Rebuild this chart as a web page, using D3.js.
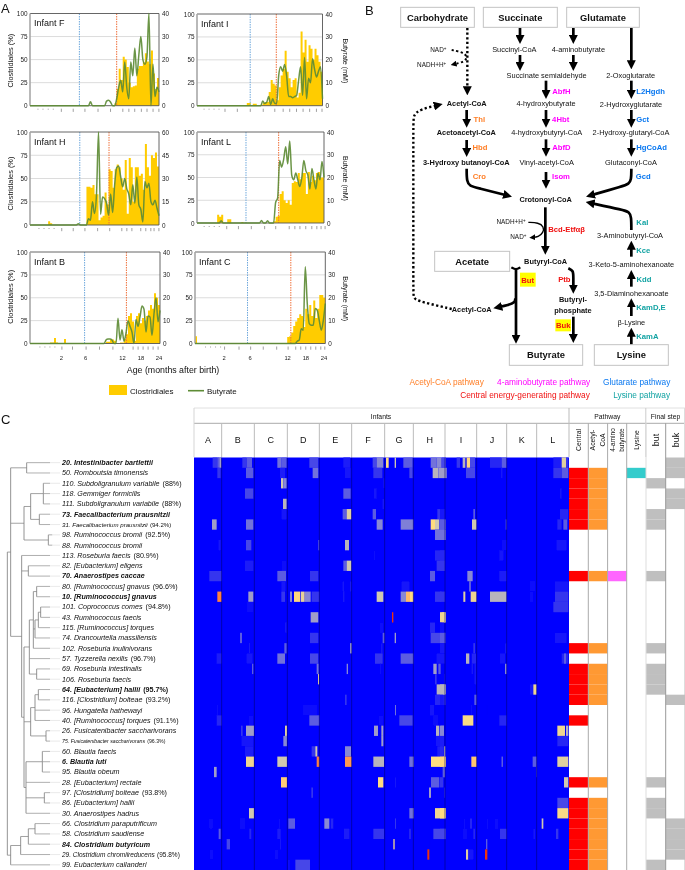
<!DOCTYPE html>
<html><head><meta charset="utf-8">
<script src="https://cdn.jsdelivr.net/npm/d3@7/dist/d3.min.js"></script>
<style>
html,body{margin:0;padding:0;background:#fff}
svg{display:block;font-family:"Liberation Sans",Arial,sans-serif;filter:blur(0.25px)}
</style></head><body><svg id="c" width="685" height="870"></svg>
<script>
// ---------- Panel A data (one value per sample) ----------
const clostF=[0,0,0,0,0,0,0,0,0,0,0,0,0,0,0,0,0,0,0,0,0,0,0,0,0,0,0,0,0,0,0,0,0,0,0,0,0,0,0,0,0,0,3,18,40,28,53,50,42,25,20,21,22,40,43,43,47,57,48,45,60,35,18,30,44];
const butF=[0,0,0,0,0,0,0,0,0,0,0,0,0,0,0,0,0,0,0,0,0,0,0,0,0,0,0,0,0,0,1.7,0,0,0,0,0,0,0,2,2.4,1.5,0,0,3,8,11,6,19,8,3,19,13,25,13,22,30,20,18,21,40,0,18,4,8,6];
const clostI=[0,0,0,0,0,0,0,0,0,0,0,0,0,0,0,0,0,0,0,0,0,0,0,0,0,3,3,0,2,2,0,0,1,3,4,4,15,28,24,22,6,20,33,40,60,37,30,20,28,30,9,14,81,58,72,48,66,62,50,62,55,48,37,36];
const butI=[0,0,0,0,0,0,0,0,0,0,0,0,0,0,0,0,0,0,0,0,0,0,0,0,0,0,0,0,0,0,0,0,0,2,1,1.5,4,.5,3,1,1,13,17,15,18,13,4,4,3.5,4,4.5,11,17,4.5,21,3,12,10,20.5,16,12.5,15,17,3];
const clostH=[0,0,0,0,0,0,0,0,0,4,2,0,0,0,0,0,0,0,0,0,0,0,0,0,0,0,0,0,41,41,40,43,33,33,5,8,10,35,22,60,58,40,60,65,62,50,38,70,12,72,62,25,62,62,53,55,38,87,62,53,75,72,78,63,56];
const butH=[0,0,0,0,0,0,0,0,0,0,0,0,0,0,0,0,0,0,0,0,0,0,0,0,.8,0,0,0,0,4,3,15,7.5,20,60,7,18,17,14,6.4,20,8,26,37,38,31,24.6,30,23.5,20,13,26,14,31,13,10,2,28,24,27,15,13,16,11,6];
const clostL=[0,0,0,0,0,0,0,0,0,0,9,7,9,0,0,4,4,0,0,0,0,0,1,0,0,0,0,0,0,0,0,0,0,0,0,0,0,0,2,7,8,32,35,25,22,25,20,44,46,45,55,48,55,55,32,56,45,52,47,55,56,50,50,58];
const butL=[0,0,0,0,0,0,0,0,0,0,0,0,1,0,0,0,0,0,0,0,0,0,0,0,0,0,0,0,0,0,0,0,1.1,0,0,1,0,0,0,9,11,27.5,24.6,28,33.5,26,36,21,19,22,19,16,20,27.5,23,21,15,24,19,15,22,19,27,20];
const clostB=[0,0,0,0,0,0,0,0,0,0,1,1,6,1,0,0,0,5,0,0,0,0,0,0,0,0,0,0,0,0,0,0,0,0,0,0,0,0,2,2,4.5,4.5,3,0,0,1,1,5,10,30,33,24,3,30,33,22,28,25,30,36,42,38,55,50,42,35];
const butB=[0,0,0,0,0,0,0,0,0,0,0,0,0,0,0,0,0,0,0,0,0,0,0,0,0,0,0,0,0,0,0,0,0,0,0,0,0,0,1.5,2,2,1.5,0,0,11,1.5,6,1,4.5,10,7.5,5,0,10.5,7.5,11.6,16.4,15,5,12,11.6,3.6,13,20,9.5,14.5];
const clostC=[8,0,0,0,0,0,0,0,0,0,0,0,0,0,0,0,0,0,0,0,0,0,0,0,0,0,0,0,0,0,0,0,0,0,0,0,0,0,0,0,0,.5,0,0,0,0,7,8,12,19,24,28,32,30,18,38,32,42,30,47,28,38,53,53,50,44];
const butC=[0,0,0,0,0,0,0,0,0,0,0,0,0,0,0,0,0,0,0,0,0,0,0,0,0,0,0,0,0,0,0,0,0,0,0,0,0,0,0,0,0,0,0,0,0,0,0,0,0,0,0,1,1.5,6.5,5.8,33.5,17.5,8.7,8,8,15.3,14.5,10,5.8,10,17.5];
// sample number of each age tick
const ticksF=[3.7,6.2,8.8,11.3,15.3,21.2,27,33.5,39.7,45.8,48.8,51.7,55,57.8,60.8,63.7];
const ticksI=[3.3,5.8,8.3,10.8,13.8,20,26.5,33,38.8,43,46.3,49.7,53,56.3,59.7,62.5];
const ticksH=[4.2,6.7,9.2,11.7,15.5,21.2,27,33.3,39.3,45.3,47.8,50.3,54.7,57.2,59.7,61.3,63.7];
const ticksL=[3.3,5.8,8.3,10.8,14.5,20.3,26.7,33.3,38.8,45.5,48.3,50.8,53.7,56.7,59.2,61.3,63.3];
const ticksB=[4.7,7.2,9.7,12.2,15.7,21,27.8,34.5,41.2,46.2,51.3,53.8,56.3,58.8,61.3,63.8];
const ticksC=[5,7.5,10,12.5,14.5,21.7,27.5,33.8,40.5,46.2,50,52.5,55,57.5,60,62.5,64.5];
const ageLabelsB=[[15.7,"2"],[27.8,"6"],[46.2,"12"],[55.5,"18"],[64.5,"24"]];
const ageLabelsC=[[14.5,"2"],[27.5,"6"],[46.2,"12"],[55.3,"18"],[64.3,"24"]];
const percentTicks=[0,25,50,75,100];
const butyrateTicks40=[0,10,20,30,40];
const butyrateTicks60=[0,15,30,45,60];

const panels=[
 {name:"Infant F",clost:clostF,but:butF,ticks:ticksF,blue:24.5,red:43,  butMax:40,bt:butyrateTicks40,box:[30,159,13.5,105.7],lab:1},
 {name:"Infant I",clost:clostI,but:butI,ticks:ticksI,blue:26.7,red:39.8,butMax:40,bt:butyrateTicks40,box:[197,322.5,14,105.7],right:true},
 {name:"Infant H",clost:clostH,but:butH,ticks:ticksH,blue:24.7,red:39.2,butMax:60,bt:butyrateTicks60,box:[30,159,132,225],lab:5},
 {name:"Infant L",clost:clostL,but:butL,ticks:ticksL,blue:24.3,red:40.5,butMax:40,bt:butyrateTicks40,box:[197,324,132,223],right:true},
 {name:"Infant B",clost:clostB,but:butB,ticks:ticksB,blue:27.3,red:48.2,butMax:40,bt:butyrateTicks40,box:[30,160,252,343.5],ages:ageLabelsB,lab:-1},
 {name:"Infant C",clost:clostC,but:butC,ticks:ticksC,blue:26.2,red:47.8,butMax:40,bt:butyrateTicks40,box:[195,325.3,252,343.5],right:true,ages:ageLabelsC}
];

// ---------- Panel C data ----------
const speciesLabels=[
["20. Intestinibacter bartlettii","",1],["50. Romboutsia timonensis",""],["110. Subdoligranulum variabile","(88%)"],["118. Gemmiger formicilis",""],["111. Subdoligranulum variabile","(88%)"],
["73. Faecalibacterium prausnitzii","",1],["31. Faecalibacterium prausnitzii","(94.2%)",0,6.1],["98. Ruminococcus bromii","(92.5%)"],["88. Ruminococcus bromii",""],["113. Roseburia faecis","(80.9%)"],
["82. [Eubacterium] eligens",""],["70. Anaerostipes caccae","",1],["80. [Ruminococcus] gnavus","(96.6%)"],["10. [Ruminococcus] gnavus","",1],["101. Coprococcus comes","(94.8%)"],
["43. Ruminococcus faecis",""],["115. [Ruminococcus] torques",""],["74. Drancourtella massiliensis",""],["102. Roseburia inulinivorans",""],["57. Tyzzerella nexilis","(96.7%)"],
["69. Roseburia intestinalis",""],["106. Roseburia faecis",""],["64. [Eubacterium] hallii","(95.7%)",1],["116. [Clostridium] bolteae","(93.2%)"],["96. Hungatella hathewayi",""],
["40. [Ruminococcus] torques","(91.1%)"],["26. Fusicatenibacter saccharivorans",""],["75. Fusicatenibacter saccharivorans","(96.3%)",0,5.2],["60. Blautia faecis",""],["6. Blautia luti","",1],
["95. Blautia obeum",""],["28. [Eubacterium] rectale",""],["97. [Clostridium] bolteae","(93.8%)"],["86. [Eubacterium] hallii",""],["30. Anaerostipes hadrus",""],
["66. Clostridium paraputrificum",""],["58. Clostridium saudiense",""],["84. Clostridium butyricum","",1],["29. Clostridium chromiireducens","(95.8%)",0,6.5],["99. Eubacterium callanderi",""]];
const dendrogram=[22,
 [32,[80,0,1],[72,[92,[130,2,3,4],[118,5,6]],[145,7,8]],
   [65,9,[85,10,11],[72,
     [88,[100,[110,12,13],[105,[115,[122,14,15],16],17],18],19,[110,20,21]],
     [92,[105,[115,22,23],24,25],[138,26,27]],
     [78,[127,28,29,30],31,[133,32,33],34]]]],
 [32,39,[62,38,[85,[105,35,36],37]]]];
const infantNames=["A","B","C","D","E","F","G","H","I","J","K","L"];
const infantBoundaries=[95,193,292,388,485,584,670,765,860,950,1040];
const infantCentres=[54,143,242,340,436,534,627,719,813,906,995,1088];
// [row, from sample, to sample, abundance level]
const heatWest=[
[0,68,82,.2],[0,82,88,.3],[0,88,94,.45],[0,157,170,.2],[0,170,186,.3],[0,262,275,.35],[0,275,290,.3],[0,358,385,.25],[0,460,480,.12],[0,548,560,.25],[0,560,580,.4],[0,588,596,.7],[0,614,618,.55],[0,640,668,.3],[0,722,740,.35],[0,740,755,.4],[0,755,768,.25],
[1,82,92,.2],[1,168,190,.3],[1,270,285,.12],[1,368,385,.35],[1,465,482,.1],[1,550,577,.2],[1,658,668,.25],[1,728,745,.5],[1,745,770,.45],
[2,273,280,.55],[2,280,290,.4],[2,580,584,.1],
[3,165,190,.25],[3,460,482,.3],[3,552,560,.1],
[4,279,290,.5],[4,578,582,.1],
[5,275,290,.1],[5,458,470,.3],[5,470,484,.6],[5,548,558,.3],[5,742,760,.2],
[6,66,80,.45],[6,168,190,.35],[6,560,578,.4],[6,632,670,.38],[6,722,735,.7],[6,735,748,.55],[6,748,768,.3],
[7,735,768,.35],
[8,86,92,.1],[8,168,184,.25],[8,384,388,.25],[8,465,477,.5],
[9,735,765,.15],[9,552,556,.05],
[10,165,190,.12],[10,275,288,.08],[10,460,470,.3],[10,470,484,.55],[10,740,765,.2],
[11,58,95,.2],[11,262,288,.3],[11,360,385,.2],[11,720,735,.3],
[12,274,286,.1],[12,458,462,.1],[12,480,484,.1],[12,635,658,.1],
[13,82,95,.95],[13,175,190,.45],[13,274,285,.2],[13,300,306,.4],[13,312,330,.72],[13,332,344,.62],[13,345,362,.4],[13,365,388,.2],[13,460,463,.15],[13,560,580,.55],[13,632,648,.4],[13,648,660,.82],[13,660,670,.7],[13,735,755,.2],
[14,172,190,.08],
[15,362,385,.45],[15,606,610,1],[15,755,768,.6],
[16,285,290,.1],[16,720,735,.15],[16,570,580,.05],
[17,150,156,.3],[17,360,385,.2],[17,578,584,.3],[17,614,618,.45],[17,722,767,.25],
[18,178,180,.15],[18,283,290,.3],[18,480,486,.4],[18,573,578,.1],
[19,80,95,.12],[19,170,188,.1],[19,262,285,.35],[19,360,385,.25],[19,555,578,.2],[19,632,670,.3],[19,740,765,.1],
[20,186,190,.3],[20,380,386,.35],[20,470,474,.4],[20,730,740,.45],[20,745,752,.3],[20,570,573,.05],
[21,384,387,.65],[21,735,740,.2],[21,762,765,.1],
[22,740,768,.5],
[23,465,470,.2],[23,735,768,.15],
[24,80,86,.05],[24,340,380,.06],[24,615,618,.35],[24,720,732,.1],
[25,80,96,.15],[25,175,190,.05],[25,358,388,.3],[25,565,580,.05],[25,628,668,.25],[25,730,745,.08],
[26,153,158,.2],[26,168,192,.45],[26,285,291,.6],[26,552,564,.45],[26,574,580,.45],[26,738,748,.5],[26,752,762,.3],
[27,155,190,.1],[27,280,291,.4],[27,574,580,.45],[27,738,762,.1],
[28,165,190,.12],[28,365,376,.2],[28,376,382,.55],[28,465,483,.4],[28,742,762,.12],[28,762,766,.5],
[29,168,192,.65],[29,262,291,.55],[29,380,388,.95],[29,465,485,.9],[29,550,582,.5],[29,658,672,.35],[29,723,768,.7],
[30,72,80,.45],[30,760,765,.45],
[31,273,291,.75],[31,564,580,.7],[31,615,618,.1],[31,723,748,.3],
[32,364,369,.2],[32,717,723,.45],[32,762,765,.15],
[34,177,192,.55],[34,658,672,.35],[34,735,768,.65],
[35,58,68,.06],[35,150,165,.08],[35,267,270,.05],[35,295,315,.3],[35,403,418,.4],[35,422,430,.15],[35,615,618,.2],
[36,86,92,.3],[36,178,184,.15],[36,262,272,.12],[36,462,478,.12],[36,550,582,.2],[36,658,662,.2],[36,730,768,.25],
[37,110,120,.25],[37,270,273,.1],[37,610,614,.65],[37,718,721,.05],
[38,58,70,.05],[38,255,265,.04],[38,712,718,1],
[39,295,298,.1],[39,316,360,.25]];
// same form, counted from the start of the eastern block of infants
const eastStart=750;
const heatEast=[
[0,50,60,.2],[0,68,76,.5],[0,80,90,.72],[0,90,105,.25],[0,150,185,.15],[0,185,200,.3],[0,340,365,.12],[0,365,378,.6],[0,378,385,.2],
[1,78,105,.25],[1,183,187,.1],[1,340,365,.2],[1,365,385,.3],
[3,360,365,.1],
[5,0,15,.1],[5,100,105,.3],[5,360,385,.15],
[6,0,15,.3],[6,96,110,.55],[6,197,200,.3],[6,352,365,.15],[6,370,382,.3],
[7,0,15,.35],
[8,185,200,.08],[8,350,380,.1],
[9,0,15,.15],[9,178,190,.1],
[10,0,15,.2],
[11,82,98,.4],[11,178,200,.12],
[12,88,92,.4],[12,270,285,.05],[12,345,385,.1],
[13,0,15,.2],[13,70,76,.6],[13,92,110,.65],[13,150,200,.5],[13,270,280,.05],[13,345,385,.2],
[14,340,385,.2],
[15,0,15,.65],
[16,0,12,.05],
[17,0,15,.3],[17,345,380,.1],
[18,0,15,.1],[18,100,105,.2],[18,195,200,.1],
[19,78,88,.5],[19,95,108,.15],[19,180,195,.1],[19,365,385,.15],[19,372,378,.3],
[20,95,98,.15],[20,103,108,.1],[20,195,200,.4],
[21,103,108,.1],
[22,0,15,.5],[22,270,280,.1],[22,280,290,.65],
[23,0,10,.1],[23,103,110,.3],
[24,92,97,.05],[24,140,143,.05],
[25,68,100,.68],[25,178,200,.15],
[26,0,12,.4],[26,352,375,.65],[26,378,385,.5],
[27,0,12,.12],[27,352,385,.15],
[28,0,10,.15],
[29,0,15,.72],[29,94,110,.78],[29,185,188,.4],[29,278,290,.3],[29,352,385,.6],
[30,8,14,.3],[30,288,291,.2],
[31,0,10,.2],[31,372,385,.55],
[33,352,385,.25],
[34,0,15,.7],[34,352,385,.68],
[35,70,75,.05],[35,90,96,.15],[35,140,145,.05],[35,165,175,.05],[35,305,310,.55],
[36,0,16,.25],[36,70,80,.08],[36,100,105,.15],[36,180,200,.2],[36,280,285,.1],[36,348,355,.2],
[37,138,142,.3],[37,95,98,.05],
[38,78,85,.6],[38,85,100,.1],[38,135,142,1]];
// pathway membership (rows coloured in each column)
const rowsCentral=[1,2,3,4,5,6,11,18,20,21,22,23,25,31,33,34,35,36,37,38,39];
const rowsAcetyl=[1,2,3,4,5,6,11,18,20,21,22,23,31,33,34,35,36,37,38,39];
const rowsAmino=[11];
const rowsLysine=[1];
const rowsBut=[2,5,6,11,18,20,21,22,31,33,34,39];
const rowsBuk=[0,1,3,4,23,35,36,37,38];

// ---------- Panel B content (diagram units) ----------
const ORANGE="#FF7F27",MAGENTA="#FF00FF",BLUE="#0A78F0",RED="#F01010",TEAL="#12A3A3";
const boxes=[["Carbohydrate",122,22,343,82],["Succinate",370,22,592,82],["Glutamate",620,22,838,82],["Acetate",224,754,449,814],["Butyrate",448,1034,668,1096],["Lysine",703,1034,925,1096]];
const metabolites=[["Succinyl-CoA",463,148],["4-aminobutyrate",655,148],["Succinate semialdehyde",560,225],["2-Oxoglutarate",812,226],["4-hydroxybutyrate",558,310],["2-Hydroxyglutarate",813,313],["4-hydroxybutyryl-CoA",560,398],["2-Hydroxy-glutaryl-CoA",813,398],["Vinyl-acetyl-CoA",560,487],["Glutaconyl-CoA",813,487],["3-Aminobutyryl-CoA",810,706],["3-Keto-5-aminohexanoate",814,794],["3,5-Diaminohexanoate",814,879],["β-Lysine",814,967]];
const boldMetabolites=[["Acetyl-CoA",320,309],["Acetoacetyl-CoA",319,398],["3-Hydroxy butanoyl-CoA",319,487],["Crotonoyl-CoA",557,597],["Butyryl-CoA",557,784],["Butyryl-",639,897],["phosphate",639,931],["Acetyl-CoA",335,927]];
const enzymes=[["Thl",358,358,ORANGE],["Hbd",360,443,ORANGE],["Cro",358,528,ORANGE],["AbfH",604,273,MAGENTA],["4Hbt",602,358,MAGENTA],["AbfD",604,443,MAGENTA],["Isom",603,528,MAGENTA],["L2Hgdh",872,273,BLUE],["Gct",848,358,BLUE],["HgCoAd",875,443,BLUE],["Gcd",850,528,BLUE],["Bcd-Etfαβ",620,689,RED],["But",503,842,RED],["Ptb",613,837,RED],["Buk",610,975,RED],["Kal",847,666,TEAL],["Kce",850,752,TEAL],["Kdd",852,837,TEAL],["KamD,E",873,923,TEAL],["KamA",862,1008,TEAL]];
const highlights=[[480,818,527,860],[586,958,633,994]];
const cofactors=[["NAD","+",235,150],["NADH+H","+",215,195],["NADH+H","+",453,666],["NAD","+",475,711]];
const pathwayLegend=[["Acetyl-CoA pathway",260,1145,ORANGE],["4-aminobutyrate pathway",551,1145,MAGENTA],["Glutarate pathway",830,1145,BLUE],["Central energy-generating pathway",495,1185,RED],["Lysine pathway",845,1185,TEAL]];
const solidArrows=[
[[480,84],[480,132]],[[480,165],[480,213]],[[640,84],[640,132]],[[640,165],[640,213]],[[814,84],[814,208]],
[[558,242],[558,297]],[[558,330],[558,383]],[[558,418],[558,470]],[[558,516],[558,566]],
[[814,242],[814,297]],[[814,330],[814,383]],[[814,418],[814,470]],
[[320,330],[320,383]],[[320,420],[320,471]],
[[320,506],[320,545],[330,558],[350,563],[456,590]],
[[814,506],[814,540],[806,552],[790,558],[678,590]],
[[556,622],[556,764]],
[[814,690],[814,650],[808,636],[790,630],[677,606]],
[[814,770],[814,722]],[[814,860],[814,810]],[[814,948],[814,895]],[[814,1035],[814,983]],
[[468,810],[468,1031]],
[[466,895],[465,908],[445,915],[400,925]],
[[625,805],[640,812],[640,830],[640,881]],
[[640,950],[640,1029]]];
const thinArrows=[[[505,667],[535,668],[552,680],[550,698],[535,711],[508,713]]];
const dottedArrows=[
[[322,84],[322,286]],
[[275,150],[310,157],[322,170],[315,185],[272,195]],
[[275,927],[180,905],[160,895],[160,880],[160,370],[160,345],[180,328],[248,312]]];
const forkLines=[[[454,802],[468,810],[481,802]]];

// ---------- Drawing ----------
const svg=d3.select("#c");
const txt=(g,s,x,y,o={})=>g.append("text").attr("x",x).attr("y",y).text(s)
  .attr("font-size",o.size||7).attr("font-weight",o.bold?"bold":null)
  .attr("text-anchor",o.anchor||"middle").attr("fill",o.fill||"#111").attr("font-style",o.italic?"italic":null);
[["A",1,12.5],["B",365,14.5],["C",1,424]].forEach(d=>txt(svg,d[0],d[1],d[2],{size:13,anchor:"start"}));

// Panel A
const A=svg.append("g");
panels.forEach(p=>{
  const [l,r,t,b]=p.box, n=p.clost.length, g=A.append("g");
  const x=d3.scaleLinear().domain([0,n-1]).range([l,r]);
  const y=d3.scaleLinear().domain([0,100]).range([b,t]);
  const y2=d3.scaleLinear().domain([0,p.butMax]).range([b,t]);
  g.selectAll("line.grid").data([25,50,75]).join("line").attr("x1",l).attr("x2",r).attr("y1",y).attr("y2",y).attr("stroke","#dcdcdc");
  g.append("path").datum(p.clost).attr("fill","#FFCC00").attr("d",d3.area().x((d,i)=>x(i)).y0(b).y1(d=>y(d)).curve(d3.curveStepAfter));
  [[p.blue,"#6FA8DC"],[p.red,"#F0703A"]].forEach(v=>g.append("line").attr("x1",x(v[0])).attr("x2",x(v[0])).attr("y1",t).attr("y2",b).attr("stroke",v[1]).attr("stroke-width",1).attr("stroke-dasharray","1.5 1"));
  g.append("path").attr("d",`M${l},${b}H${r}V${t}H${l}`).attr("fill","none").attr("stroke","#555").attr("stroke-width",.9);
  g.append("line").attr("x1",l).attr("x2",l).attr("y1",t).attr("y2",b).attr("stroke","#a8a8a8").attr("stroke-width",1.6);
  g.append("path").datum(p.but).attr("fill","none").attr("stroke","#5E8C36").attr("stroke-opacity",.92).attr("stroke-width",1.5)
    .attr("d",d3.line().x((d,i)=>x(i)).y(d=>y2(d)).curve(d3.curveMonotoneX));
  const axL=g.append("g").attr("transform",`translate(${l},0)`).call(d3.axisLeft(y).tickValues(percentTicks).tickSize(0).tickPadding(2.5));
  const axR=g.append("g").attr("transform",`translate(${r},0)`).call(d3.axisRight(y2).tickValues(p.bt).tickSize(0).tickPadding(3));
  [axL,axR].forEach(a=>{a.select(".domain").remove();a.selectAll("text").attr("font-size",6.4).attr("font-family","inherit").attr("fill","#222");});
  const axB=g.append("g").attr("transform",`translate(0,${b+3})`).call(d3.axisBottom(x).tickValues(p.ticks).tickSize(3.2).tickFormat(""));
  axB.select(".domain").remove();
  axB.selectAll("line").attr("stroke","#888").attr("stroke-width",.8).attr("y2",(d,i)=>i<4?1:3.2);
  if(p.ages) p.ages.forEach(a=>txt(g,a[1],x(a[0]),b+16.8,{size:5.8,fill:"#222"}));
  txt(g,p.name,l+4,t+12.5,{size:9,anchor:"start"});
  const mid=(t+b)/2;
  if(p.lab!==undefined) g.append("text").attr("transform",`translate(12.5,${mid+p.lab}) rotate(-90)`).attr("text-anchor","middle").attr("font-size",7.4).attr("fill","#111").text("Clostridiales (%)");
  if(p.right) g.append("text").attr("transform",`translate(342.5,${mid+1}) rotate(90)`).attr("text-anchor","middle").attr("font-size",7.1).attr("fill","#111").text("Butyrate (mM)");
});
txt(A,"Age (months after birth)",173,373,{size:8.8});
A.append("rect").attr("x",109).attr("y",385).attr("width",18).attr("height",10).attr("fill","#FFCC00");
txt(A,"Clostridiales",130,394,{size:8,anchor:"start"});
A.append("line").attr("x1",188).attr("x2",204).attr("y1",390.7).attr("y2",390.7).attr("stroke","#5E8C36").attr("stroke-width",1.6);
txt(A,"Butyrate",207,394,{size:8,anchor:"start"});

// Panel B
const B=svg.append("g");
const bx=d3.scaleLinear().domain([0,975]).range([360,685]);
const by=d3.scaleLinear().domain([0,1200]).range([0,400]);
const defs=svg.append("defs");
[["arrow",9],["arrowS",6]].forEach(m=>defs.append("marker").attr("id",m[0]).attr("viewBox","0 0 10 10").attr("refX",5).attr("refY",5)
  .attr("markerUnits","userSpaceOnUse").attr("markerWidth",m[1]).attr("markerHeight",m[1]).attr("orient","auto")
  .append("path").attr("d","M0,0L10,5L0,10z").attr("fill","#000"));
defs.append("filter").attr("id","stripeSoft").attr("x","-2%").attr("y","0%").attr("width","104%").attr("height","100%")
  .append("feGaussianBlur").attr("stdDeviation","0.55 0");
const curve=d3.line().x(d=>d[0]).y(d=>d[1]).curve(d3.curveBasis);
function arrow(pts,w,head,dash){
  const px=pts.map(p=>[bx(p[0]),by(p[1])]);
  const a=px[px.length-2],z=px[px.length-1],len=Math.hypot(z[0]-a[0],z[1]-a[1]),cut=head==="arrow"?4.5:3;
  px[px.length-1]=[z[0]-(z[0]-a[0])/len*cut,z[1]-(z[1]-a[1])/len*cut];
  const path=B.append("path").attr("d",curve(px)).attr("fill","none").attr("stroke","#000").attr("stroke-width",w).attr("marker-end",`url(#${head})`);
  if(dash) path.attr("stroke-dasharray",dash);
}
highlights.forEach(h=>B.append("rect").attr("x",bx(h[0])).attr("y",by(h[1])).attr("width",bx(h[2])-bx(h[0])).attr("height",by(h[3])-by(h[1])).attr("fill","#FFFF00"));
solidArrows.forEach(p=>arrow(p,2.7,"arrow"));
thinArrows.forEach(p=>arrow(p,1.4,"arrowS"));
dottedArrows.forEach((p,i)=>arrow(p,i===1?2:2.4,i===1?"arrowS":"arrow","2.2 2.4"));
forkLines.forEach(p=>B.append("path").attr("d",curve(p.map(q=>[bx(q[0]),by(q[1])]))).attr("fill","none").attr("stroke","#000").attr("stroke-width",2.2));
boxes.forEach(d=>{
  B.append("rect").attr("x",bx(d[1])).attr("y",by(d[2])).attr("width",bx(d[3])-bx(d[1])).attr("height",by(d[4])-by(d[2])).attr("fill","#fff").attr("stroke","#c4c4c4").attr("stroke-width",1);
  txt(B,d[0],bx((d[1]+d[3])/2),by((d[2]+d[4])/2)+3.3,{size:9.4,bold:true});
});
metabolites.forEach(d=>txt(B,d[0],bx(d[1]),by(d[2])+2.6,{size:7.4}));
boldMetabolites.forEach(d=>txt(B,d[0],bx(d[1]),by(d[2])+2.6,{size:7.4,bold:true}));
enzymes.forEach(d=>txt(B,d[0],bx(d[1]),by(d[2])+2.7,{size:7.7,bold:true,fill:d[3]}));
cofactors.forEach(d=>{
  const t=txt(B,d[0],bx(d[2]),by(d[3])+2.3,{size:6.4});
  t.append("tspan").attr("dy",-2).attr("font-size",4.5).text(d[1]);
});
pathwayLegend.forEach(d=>txt(B,d[0],bx(d[1]),by(d[2])+3,{size:8.3,fill:d[3]}));

// Panel C
const C=svg.append("g");
const heatTop=457.5, heatBottom=870;
const row=d3.scaleBand().domain(d3.range(40)).range([heatTop,heatBottom]);
const hx=d3.scaleLinear().domain([12,1137]).range([194,569]);
const heatColor=d3.scaleLinear().domain([0,.1,.25,.4,.55,.7,.85,.95,1])
  .range(["#0000ff","#1414fa","#4646e8","#8888d4","#d0c8b0","#ffdc80","#ffb060","#ff8040","#ee3010"]);
C.append("rect").attr("x",194).attr("y",heatTop).attr("width",375).attr("height",heatBottom-heatTop).attr("fill",heatColor(0));
const spans=heatWest.concat(heatEast.map(s=>[s[0],s[1]+eastStart,s[2]+eastStart,s[3]]));
C.append("g").attr("filter","url(#stripeSoft)").selectAll("rect").data(spans).join("rect").attr("x",d=>hx(d[1])).attr("width",d=>hx(d[2])-hx(d[1])).attr("y",d=>row(d[0])).attr("height",row.bandwidth()).attr("fill",d=>heatColor(d[3]));
C.selectAll("line.b").data(infantBoundaries).join("line").attr("x1",hx).attr("x2",hx).attr("y1",heatTop).attr("y2",heatBottom).attr("stroke","#00006e").attr("stroke-width",.8).attr("stroke-opacity",.7);
// header
const header=C.append("g");
const hl=(a,b,c,d,col)=>header.append("line").attr("x1",a).attr("y1",b).attr("x2",c).attr("y2",d).attr("stroke",col||"#bbb");
hl(194,408,685,408,"#e0e0e0"); hl(194,423.3,685,423.3,"#aaa"); hl(194,408,194,457,"#d5d5d5");
hl(569,408,569,457,"#bbb"); hl(645.8,408,645.8,457,"#ccc"); hl(684.5,408,684.5,870,"#ddd");
infantBoundaries.forEach(v=>hl(hx(v),423.3,hx(v),457,"#bbb"));
infantNames.forEach((n,i)=>txt(header,n,hx(infantCentres[i]),443.3,{size:9}));
txt(header,"Infants",381,418.5,{size:6.8});
txt(header,"Pathway",607.3,418.5,{size:6.8});
txt(header,"Final step",665.5,418.5,{size:6.8});
const rot=(s,x,size,yy)=>header.append("text").attr("transform",`translate(${x},${yy||440}) rotate(-90)`).attr("text-anchor","middle").attr("font-size",size).attr("fill","#111").text(s);
rot("Central",580.8,6.8);rot("Acetyl-",595.3,6.8);rot("CoA",605,6.8);rot("4-amino",614.5,6.5);rot("butyrate",624,6.5);rot("Lysine",639,6.8);rot("but",659,9);rot("buk",678.5,9);
// pathway table
const tableCols=[[569,588.3,rowsCentral,"#FF0000"],[588.3,607.6,rowsAcetyl,"#FF9933"],[607.6,626.7,rowsAmino,"#FF66FF"],[626.7,646,rowsLysine,"#33CCCC"],[646,665.7,rowsBut,"#BFBFBF"],[665.7,685,rowsBuk,"#BFBFBF"]];
tableCols.forEach(c=>C.append("g").selectAll("rect").data(c[2]).join("rect").attr("x",c[0]).attr("width",c[1]-c[0]).attr("y",d=>row(d)).attr("height",row.bandwidth()).attr("fill",c[3]));
[[588.3,"#aaa"],[607.6,"#aaa"],[626.7,"#aaa"],[646,"#ddd"],[665.7,"#999"]].forEach(v=>C.append("line").attr("x1",v[0]).attr("x2",v[0]).attr("y1",423.3).attr("y2",870).attr("stroke",v[1]).attr("stroke-width",1));
// labels
speciesLabels.forEach((s,i)=>{
  const t=C.append("text").attr("x",62).attr("y",row(i)+row.bandwidth()/2+2.4).attr("font-size",s[3]||7.15).attr("font-style","italic").attr("font-weight",s[2]?"bold":null).attr("fill","#111").text(s[0]);
  if(s[1]) t.append("tspan").attr("font-style","normal").attr("dx",s[3]?2.2:3).text(s[1]);
});
// dendrogram
const dx=d3.scaleLinear().domain([0,180]).range([0,60]);
const root=d3.hierarchy(dendrogram,d=>Array.isArray(d)?d.slice(1):null);
const rowY=i=>row(i)+row.bandwidth()/2;
root.eachAfter(n=>{
  if(n.children){n.hh=n.data[0];const e=d3.extent(n.children,c=>c.yy);n.yy=(e[0]+e[1])/2;n.y0=e[0];n.y1=e[1];}
  else{n.yy=rowY(n.data);}
});
const tree=C.append("g").attr("fill","none");
root.descendants().forEach(n=>{
  if(!n.children) return;
  tree.append("line").attr("x1",dx(n.hh)).attr("x2",dx(n.hh)).attr("y1",n.y0).attr("y2",n.y1).attr("stroke","#777").attr("stroke-width",.8);
  n.children.forEach(c=>{
    if(c.children){
      tree.append("line").attr("x1",dx(n.hh)).attr("x2",dx(c.hh)).attr("y1",c.yy).attr("y2",c.yy).attr("stroke","#8a8a8a").attr("stroke-width",.8);
    }else{
      tree.append("line").attr("x1",dx(n.hh)).attr("x2",dx(Math.max(n.hh+12,150))).attr("y1",c.yy).attr("y2",c.yy).attr("stroke","#9a9a9a").attr("stroke-width",.8);
      tree.append("line").attr("x1",dx(Math.max(n.hh+12,150))).attr("x2",dx(180)).attr("y1",c.yy).attr("y2",c.yy).attr("stroke","#e4e4e4").attr("stroke-width",.8);
    }
  });
});
</script></body></html>
